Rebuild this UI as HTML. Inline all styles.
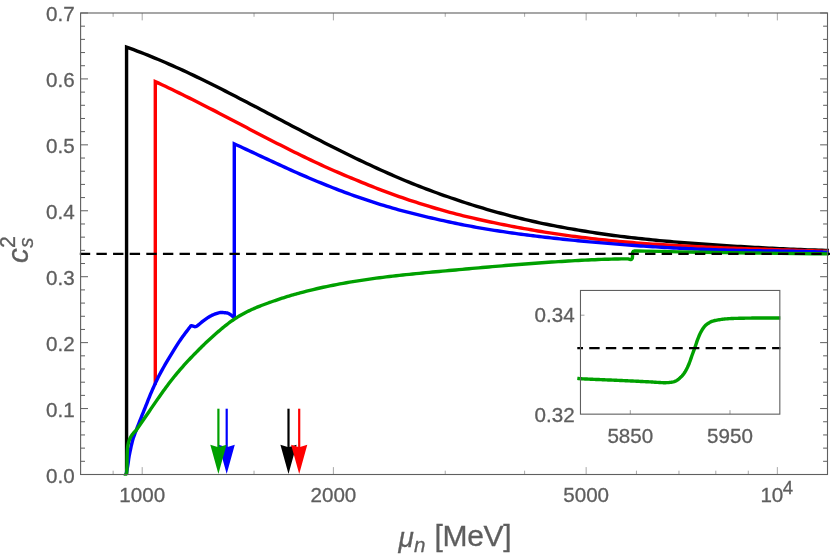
<!DOCTYPE html>
<html><head><meta charset="utf-8"><title>cs2</title>
<style>
html,body{margin:0;padding:0;background:#fff;}
body{width:830px;height:556px;overflow:hidden;}
svg{display:block;will-change:transform;}
text{font-family:"Liberation Sans",sans-serif;fill:#5e5e5e;stroke:#5e5e5e;stroke-width:0.3px;}
</style></head><body>
<svg width="830" height="556" viewBox="0 0 830 556">
<rect x="0" y="0" width="830" height="556" fill="#ffffff"/>
<defs><clipPath id="pc"><rect x="76.60" y="0" width="753.40" height="475.70"/></clipPath></defs>
<g clip-path="url(#pc)">
<polyline points="126.57,474.60 126.57,47.10 130.10,48.39 133.63,49.71 137.16,51.05 140.69,52.41 144.22,53.79 147.75,55.20 151.28,56.63 154.81,58.08 158.34,59.55 161.87,61.04 165.40,62.55 168.93,64.08 172.46,65.63 175.99,67.19 179.52,68.78 183.05,70.41 186.58,72.06 190.11,73.73 193.64,75.41 197.17,77.11 200.70,78.82 204.23,80.54 207.76,82.28 211.29,84.03 214.81,85.79 218.34,87.57 221.87,89.35 225.40,91.14 228.93,92.94 232.46,94.75 235.99,96.57 239.52,98.40 243.05,100.23 246.58,102.07 250.11,103.91 253.64,105.76 257.17,107.61 260.70,109.46 264.23,111.31 267.76,113.17 271.29,115.03 274.82,116.88 278.35,118.74 281.88,120.60 285.41,122.46 288.94,124.31 292.47,126.16 296.00,128.02 299.53,129.86 303.06,131.71 306.59,133.55 310.12,135.38 313.65,137.21 317.18,139.03 320.71,140.85 324.24,142.66 327.77,144.46 331.30,146.25 334.83,148.04 338.36,149.82 341.89,151.57 345.42,153.30 348.95,155.01 352.48,156.72 356.01,158.42 359.54,160.10 363.07,161.78 366.60,163.43 370.13,165.08 373.66,166.72 377.19,168.34 380.72,169.94 384.25,171.53 387.78,173.11 391.30,174.67 394.83,176.22 398.36,177.75 401.89,179.25 405.42,180.72 408.95,182.17 412.48,183.60 416.01,185.02 419.54,186.42 423.07,187.78 426.60,189.12 430.13,190.44 433.66,191.74 437.19,193.02 440.72,194.28 444.25,195.53 447.78,196.77 451.31,198.01 454.84,199.22 458.37,200.41 461.90,201.59 465.43,202.75 468.96,203.88 472.49,205.00 476.02,206.10 479.55,207.18 483.08,208.24 486.61,209.28 490.14,210.31 493.67,211.31 497.20,212.29 500.73,213.26 504.26,214.23 507.79,215.17 511.32,216.10 514.85,217.01 518.38,217.89 521.91,218.76 525.44,219.61 528.97,220.44 532.50,221.24 536.03,222.03 539.56,222.80 543.09,223.55 546.62,224.28 550.15,225.00 553.68,225.69 557.21,226.38 560.74,227.04 564.27,227.69 567.79,228.32 571.32,228.94 574.85,229.54 578.38,230.13 581.91,230.71 585.44,231.29 588.97,231.86 592.50,232.41 596.03,232.95 599.56,233.48 603.09,233.99 606.62,234.49 610.15,234.97 613.68,235.45 617.21,235.91 620.74,236.35 624.27,236.79 627.80,237.22 631.33,237.63 634.86,238.03 638.39,238.43 641.92,238.81 645.45,239.18 648.98,239.55 652.51,239.90 656.04,240.25 659.57,240.59 663.10,240.91 666.63,241.23 670.16,241.55 673.69,241.85 677.22,242.15 680.75,242.44 684.28,242.73 687.81,243.01 691.34,243.28 694.87,243.55 698.40,243.81 701.93,244.06 705.46,244.31 708.99,244.56 712.52,244.80 716.05,245.04 719.58,245.27 723.11,245.50 726.64,245.72 730.17,245.94 733.70,246.15 737.23,246.37 740.76,246.57 744.28,246.78 747.81,246.98 751.34,247.18 754.87,247.37 758.40,247.57 761.93,247.75 765.46,247.94 768.99,248.12 772.52,248.29 776.05,248.47 779.58,248.64 783.11,248.80 786.64,248.96 790.17,249.12 793.70,249.27 797.23,249.42 800.76,249.56 804.29,249.70 807.82,249.83 811.35,249.95 814.88,250.07 818.41,250.18 821.94,250.28 825.47,250.38 829.00,250.46" fill="none" stroke="#000000" stroke-width="3.4" stroke-linejoin="miter" stroke-miterlimit="10"/>
<polyline points="155.30,384.80 155.30,81.60 158.59,83.16 161.97,84.72 165.36,86.31 168.74,87.92 172.13,89.55 175.52,91.20 178.90,92.87 182.29,94.53 185.67,96.19 189.06,97.86 192.45,99.55 195.83,101.25 199.22,102.96 202.60,104.68 205.99,106.41 209.37,108.14 212.76,109.88 216.15,111.63 219.53,113.40 222.92,115.17 226.30,116.95 229.69,118.72 233.08,120.50 236.46,122.28 239.85,124.06 243.23,125.84 246.62,127.61 250.01,129.39 253.39,131.16 256.78,132.93 260.16,134.69 263.55,136.44 266.94,138.19 270.32,139.93 273.71,141.66 277.09,143.39 280.48,145.10 283.87,146.82 287.25,148.53 290.64,150.22 294.02,151.91 297.41,153.59 300.79,155.26 304.18,156.89 307.57,158.51 310.95,160.12 314.34,161.71 317.72,163.30 321.11,164.87 324.50,166.43 327.88,167.98 331.27,169.49 334.65,170.97 338.04,172.43 341.43,173.88 344.81,175.31 348.20,176.73 351.58,178.14 354.97,179.53 358.36,180.92 361.74,182.31 365.13,183.69 368.51,185.06 371.90,186.41 375.29,187.74 378.67,189.06 382.06,190.36 385.44,191.62 388.83,192.87 392.22,194.11 395.60,195.32 398.99,196.53 402.37,197.71 405.76,198.88 409.14,200.03 412.53,201.14 415.92,202.24 419.30,203.32 422.69,204.39 426.07,205.44 429.46,206.48 432.85,207.50 436.23,208.50 439.62,209.48 443.00,210.45 446.39,211.40 449.78,212.31 453.16,213.20 456.55,214.08 459.93,214.94 463.32,215.78 466.71,216.61 470.09,217.42 473.48,218.22 476.86,219.00 480.25,219.77 483.64,220.52 487.02,221.25 490.41,221.97 493.79,222.68 497.18,223.37 500.56,224.05 503.95,224.74 507.34,225.41 510.72,226.07 514.11,226.72 517.49,227.35 520.88,227.97 524.27,228.57 527.65,229.18 531.04,229.79 534.42,230.38 537.81,230.96 541.20,231.52 544.58,232.08 547.97,232.62 551.35,233.14 554.74,233.66 558.13,234.16 561.51,234.65 564.90,235.13 568.28,235.60 571.67,236.06 575.06,236.50 578.44,236.94 581.83,237.36 585.21,237.78 588.60,238.18 591.98,238.57 595.37,238.95 598.76,239.33 602.14,239.69 605.53,240.04 608.91,240.38 612.30,240.72 615.69,241.05 619.07,241.36 622.46,241.67 625.84,241.97 629.23,242.26 632.62,242.55 636.00,242.82 639.39,243.09 642.77,243.35 646.16,243.61 649.55,243.85 652.93,244.09 656.32,244.32 659.70,244.55 663.09,244.77 666.48,244.98 669.86,245.19 673.25,245.39 676.63,245.59 680.02,245.78 683.41,245.97 686.79,246.15 690.18,246.32 693.56,246.49 696.95,246.66 700.33,246.82 703.72,246.98 707.11,247.13 710.49,247.28 713.88,247.43 717.26,247.57 720.65,247.71 724.04,247.84 727.42,247.98 730.81,248.11 734.19,248.23 737.58,248.36 740.97,248.48 744.35,248.60 747.74,248.72 751.12,248.83 754.51,248.95 757.90,249.06 761.28,249.17 764.67,249.28 768.05,249.39 771.44,249.50 774.83,249.61 778.21,249.72 781.60,249.83 784.98,249.93 788.37,250.04 791.75,250.15 795.14,250.25 798.53,250.36 801.91,250.47 805.30,250.58 808.68,250.69 812.07,250.80 815.46,250.91 818.84,251.03 822.23,251.14 825.61,251.26 829.00,251.38" fill="none" stroke="#ff0000" stroke-width="3.4" stroke-linejoin="miter" stroke-miterlimit="10"/>
<polyline points="126.30,474.40 126.53,472.35 126.83,470.32 127.23,468.30 127.65,466.28 127.98,464.25 128.26,462.21 128.53,460.16 128.82,458.12 129.16,456.09 129.53,454.07 129.93,452.05 130.36,450.03 130.80,448.02 131.24,446.01 131.70,444.00 132.18,442.00 132.71,440.01 133.30,438.04 134.00,436.10 134.71,434.16 135.42,432.23 136.16,430.31 136.90,428.39 137.65,426.47 138.40,424.55 139.16,422.64 139.91,420.72 140.67,418.81 141.43,416.89 142.19,414.98 142.96,413.07 143.73,411.16 144.50,409.25 145.27,407.34 146.02,405.42 146.78,403.51 147.53,401.59 148.29,399.67 149.05,397.76 149.83,395.85 150.62,393.95 151.43,392.06 152.26,390.18 153.10,388.30 153.95,386.42 154.81,384.55 155.66,382.67 156.53,380.80 157.40,378.94 158.31,377.09 159.24,375.26 160.20,373.43 161.17,371.62 162.17,369.82 163.18,368.02 164.20,366.23 165.22,364.44 166.25,362.66 167.29,360.88 168.35,359.11 169.41,357.35 170.48,355.59 171.55,353.83 172.62,352.07 173.68,350.31 174.76,348.55 175.84,346.80 176.94,345.06 178.07,343.34 179.21,341.62 180.37,339.92 181.55,338.23 182.74,336.55 183.95,334.88 185.18,333.23 186.44,331.60 187.71,329.98 188.96,328.34 190.20,326.70 190.76,325.90 191.44,325.72 192.27,325.90 193.12,326.14 193.92,326.47 194.73,326.70 195.57,326.60 196.38,326.37 197.09,325.95 197.76,325.39 198.43,324.87 199.09,324.34 199.75,323.80 200.39,323.24 201.04,322.69 201.68,322.14 202.33,321.60 202.99,321.07 203.67,320.57 204.35,320.08 205.05,319.59 205.75,319.10 206.45,318.61 207.16,318.13 207.88,317.65 208.60,317.18 209.33,316.73 210.06,316.30 210.80,315.89 211.55,315.50 212.31,315.14 213.07,314.81 213.84,314.51 214.62,314.21 215.42,313.90 216.23,313.60 217.05,313.32 217.87,313.06 218.70,312.84 219.53,312.66 220.37,312.55 221.20,312.50 222.04,312.51 222.90,312.55 223.76,312.61 224.62,312.69 225.47,312.78 226.30,312.89 227.09,313.02 227.87,313.22 228.62,313.54 229.36,313.95 230.09,314.43 230.81,314.95 231.52,315.48 232.22,316.00 232.92,316.48 233.61,316.98 234.28,317.50 235.00,318.10" fill="none" stroke="#0000ff" stroke-width="3.4" stroke-linejoin="round" stroke-miterlimit="10"/>
<polyline points="234.28,318.90 234.28,143.80 237.23,145.18 240.22,146.56 243.21,147.96 246.19,149.36 249.18,150.77 252.17,152.16 255.16,153.56 258.15,154.95 261.14,156.34 264.13,157.74 267.12,159.13 270.10,160.52 273.09,161.91 276.08,163.29 279.07,164.66 282.06,166.03 285.05,167.39 288.04,168.75 291.03,170.09 294.01,171.43 297.00,172.75 299.99,174.07 302.98,175.37 305.97,176.67 308.96,177.95 311.95,179.22 314.94,180.47 317.92,181.71 320.91,182.94 323.90,184.16 326.89,185.36 329.88,186.54 332.87,187.72 335.86,188.89 338.85,190.05 341.83,191.18 344.82,192.30 347.81,193.41 350.80,194.50 353.79,195.58 356.78,196.63 359.77,197.68 362.76,198.70 365.74,199.71 368.73,200.71 371.72,201.68 374.71,202.64 377.70,203.59 380.69,204.52 383.68,205.43 386.67,206.33 389.65,207.21 392.64,208.08 395.63,208.93 398.62,209.77 401.61,210.59 404.60,211.39 407.59,212.18 410.58,212.96 413.56,213.70 416.55,214.44 419.54,215.16 422.53,215.87 425.52,216.57 428.51,217.29 431.50,218.00 434.49,218.69 437.47,219.37 440.46,220.04 443.45,220.70 446.44,221.35 449.43,222.00 452.42,222.63 455.41,223.25 458.40,223.86 461.38,224.46 464.37,225.05 467.36,225.63 470.35,226.20 473.34,226.75 476.33,227.30 479.32,227.84 482.31,228.37 485.29,228.89 488.28,229.37 491.27,229.85 494.26,230.32 497.25,230.79 500.24,231.24 503.23,231.69 506.22,232.13 509.20,232.56 512.19,232.99 515.18,233.40 518.17,233.82 521.16,234.22 524.15,234.62 527.14,235.00 530.13,235.38 533.11,235.76 536.10,236.12 539.09,236.49 542.08,236.84 545.07,237.19 548.06,237.54 551.05,237.88 554.04,238.21 557.02,238.54 560.01,238.87 563.00,239.19 565.99,239.51 568.98,239.82 571.97,240.12 574.96,240.43 577.95,240.73 580.93,241.02 583.92,241.30 586.91,241.58 589.90,241.86 592.89,242.13 595.88,242.40 598.87,242.66 601.86,242.92 604.84,243.17 607.83,243.43 610.82,243.67 613.81,243.92 616.80,244.16 619.79,244.39 622.78,244.62 625.77,244.85 628.75,245.08 631.74,245.30 634.73,245.51 637.72,245.72 640.71,245.93 643.70,246.14 646.69,246.34 649.68,246.53 652.66,246.72 655.65,246.91 658.64,247.09 661.63,247.27 664.62,247.45 667.61,247.62 670.60,247.78 673.59,247.94 676.57,248.10 679.56,248.25 682.55,248.40 685.54,248.55 688.53,248.68 691.52,248.82 694.51,248.95 697.50,249.08 700.48,249.20 703.47,249.32 706.46,249.43 709.45,249.54 712.44,249.64 715.43,249.74 718.42,249.84 721.41,249.93 724.39,250.02 727.38,250.10 730.37,250.18 733.36,250.26 736.35,250.33 739.34,250.40 742.33,250.46 745.32,250.53 748.30,250.59 751.29,250.64 754.28,250.70 757.27,250.75 760.26,250.80 763.25,250.85 766.24,250.89 769.23,250.94 772.21,250.98 775.20,251.02 778.19,251.07 781.18,251.11 784.17,251.16 787.16,251.20 790.15,251.25 793.14,251.30 796.12,251.35 799.11,251.40 802.10,251.46 805.09,251.52 808.08,251.59 811.07,251.67 814.06,251.75 817.05,251.83 820.03,251.93 823.02,252.03 826.01,252.15 829.00,252.27" fill="none" stroke="#0000ff" stroke-width="3.4" stroke-linejoin="miter" stroke-miterlimit="10"/>
<polyline points="123.70,475.70 124.55,475.44 125.24,475.05 125.79,474.49 126.26,473.74 126.51,472.95 126.62,472.18 126.71,471.38 126.78,470.56 126.85,469.73 126.90,468.89 126.94,468.04 126.97,467.19 126.99,466.35 127.01,465.53 127.02,464.70 127.03,463.88 127.04,463.05 127.05,462.22 127.05,461.40 127.06,460.57 127.07,459.74 127.07,458.92 127.08,458.09 127.10,457.26 127.11,456.44 127.13,455.61 127.16,454.79 127.19,453.96 127.23,453.13 127.27,452.31 127.31,451.48 127.36,450.66 127.41,449.83 127.47,449.01 127.54,448.18 127.63,447.36 127.73,446.54 127.84,445.73 127.98,444.91 128.14,444.10 128.33,443.29 128.54,442.49 128.76,441.69 128.99,440.90 129.27,440.12 129.57,439.35 129.91,438.60 130.27,437.86 130.66,437.13 131.09,436.42 131.53,435.71 131.98,435.03 132.46,434.35 132.97,433.70 133.48,433.05 134.01,432.42 134.56,431.80 135.12,431.19 135.70,431.04 137.08,429.06 138.46,427.08 139.84,425.08 141.22,423.07 142.60,421.06 143.98,419.03 145.36,417.01 146.75,414.98 148.13,412.95 149.51,410.93 150.89,408.90 152.27,406.88 153.65,404.87 155.03,402.87 156.41,400.88 157.79,398.90 159.17,396.94 160.55,394.98 161.93,393.02 163.31,391.09 164.69,389.17 166.07,387.28 167.46,385.42 168.84,383.58 170.22,381.77 171.60,380.00 172.98,378.25 174.36,376.53 175.74,374.84 177.12,373.18 178.50,371.54 179.88,369.93 181.26,368.34 182.64,366.78 184.02,365.23 185.40,363.71 186.78,362.20 188.17,360.71 189.55,359.24 190.93,357.78 192.31,356.34 193.69,354.92 195.07,353.50 196.45,352.10 197.83,350.70 199.21,349.32 200.59,347.94 201.97,346.57 203.35,345.21 204.73,343.86 206.11,342.56 207.49,341.27 208.88,339.99 210.26,338.73 211.64,337.48 213.02,336.25 214.40,335.03 215.78,333.81 217.16,332.58 218.54,331.37 219.92,330.19 221.30,329.02 222.68,327.87 224.06,326.75 225.44,325.64 226.82,324.56 228.21,323.51 229.59,322.48 230.97,321.48 232.35,320.50 233.73,319.55 235.11,318.63 236.49,317.74 237.87,316.88 239.25,316.04 240.63,315.23 242.01,314.45 243.39,313.69 244.77,312.95 246.15,312.23 247.53,311.54 248.92,310.86 250.30,310.20 251.68,309.57 253.06,308.95 254.44,308.34 255.82,307.76 257.20,307.18 258.58,306.62 259.96,306.08 261.34,305.54 262.72,305.02 264.10,304.50 265.48,303.99 266.86,303.48 268.24,302.97 269.63,302.47 271.01,301.98 272.39,301.49 273.77,301.00 275.15,300.52 276.53,300.05 277.91,299.58 279.29,299.12 280.67,298.66 282.05,298.21 283.43,297.76 284.81,297.32 286.19,296.88 287.57,296.45 288.95,296.02 290.34,295.60 291.72,295.20 293.10,294.81 294.48,294.42 295.86,294.03 297.24,293.65 298.62,293.27 300.00,292.90 303.31,292.02 306.63,291.17 309.94,290.34 313.25,289.54 316.57,288.76 319.88,288.01 323.19,287.28 326.51,286.57 329.82,285.88 333.13,285.21 336.44,284.57 339.76,283.94 343.07,283.33 346.38,282.75 349.70,282.17 353.01,281.62 356.32,281.09 359.64,280.57 362.95,280.06 366.26,279.57 369.58,279.10 372.89,278.64 376.20,278.19 379.52,277.75 382.83,277.33 386.14,276.92 389.45,276.52 392.77,276.13 396.08,275.75 399.39,275.38 402.71,275.02 406.02,274.67 409.33,274.32 412.65,273.98 415.96,273.65 419.27,273.32 422.59,273.00 425.90,272.68 429.21,272.37 432.53,272.06 435.84,271.75 439.15,271.45 442.46,271.14 445.78,270.84 449.09,270.54 452.40,270.24 455.72,269.94 459.03,269.63 462.34,269.33 465.66,269.03 468.97,268.73 472.28,268.43 475.60,268.13 478.91,267.84 482.22,267.54 485.54,267.25 488.85,266.96 492.16,266.67 495.47,266.38 498.79,266.10 502.10,265.82 505.41,265.54 508.73,265.26 512.04,264.99 515.35,264.72 518.67,264.46 521.98,264.20 525.29,263.94 528.61,263.69 531.92,263.44 535.23,263.20 538.55,262.97 541.86,262.73 545.17,262.51 548.48,262.29 551.80,262.07 555.11,261.87 558.42,261.67 561.74,261.46 565.05,261.25 568.36,261.04 571.68,260.84 574.99,260.65 578.30,260.47 581.62,260.30 584.93,260.13 588.24,259.97 591.56,259.82 594.87,259.68 598.18,259.55 601.49,259.42 604.81,259.31 608.12,259.21 611.43,259.11 614.75,259.03 618.06,258.95 621.37,258.90 624.69,258.87 628.00,258.85 630.60,259.55 631.70,259.30 632.30,258.20 632.50,256.50 632.55,254.00 632.70,252.40 633.30,251.40 634.40,251.00 637.00,250.95 645.00,251.10 660.00,251.35 680.00,251.85 699.50,252.30 725.00,252.65 749.50,252.95 780.00,253.40 814.50,253.80 829.00,253.90" fill="none" stroke="#00a000" stroke-width="3.4" stroke-linejoin="round" stroke-miterlimit="10"/>
<line x1="79.80" y1="253.95" x2="830" y2="253.95" stroke="#000" stroke-width="2.3" stroke-dasharray="10.4 6.225" stroke-dashoffset="0"/>
</g>
<g>
<line x1="226.70" y1="408.7" x2="226.70" y2="448" stroke="#0000ff" stroke-width="2.2"/><polygon points="226.70,473.9 218.60,444.7 226.70,447.3 234.80,444.7" fill="#0000ff"/>
<line x1="218.40" y1="408.7" x2="218.40" y2="448" stroke="#00a000" stroke-width="2.2"/><polygon points="218.40,473.9 210.30,444.7 218.40,447.3 226.50,444.7" fill="#00a000"/>
<line x1="288.50" y1="408.7" x2="288.50" y2="448" stroke="#000" stroke-width="2.2"/><polygon points="288.50,473.9 280.40,444.7 288.50,447.3 296.60,444.7" fill="#000"/>
<line x1="299.20" y1="408.7" x2="299.20" y2="448" stroke="#ff0000" stroke-width="2.2"/><polygon points="299.20,473.9 291.10,444.7 299.20,447.3 307.30,444.7" fill="#ff0000"/>
</g>
<g stroke="#5f5f5f" stroke-width="1" fill="none">
<line x1="142.20" y1="474.50" x2="142.20" y2="467.10" stroke-width="0.55"/>
<line x1="142.20" y1="13.00" x2="142.20" y2="20.40" stroke-width="0.55"/>
<line x1="333.40" y1="474.50" x2="333.40" y2="467.10" stroke-width="0.55"/>
<line x1="333.40" y1="13.00" x2="333.40" y2="20.40" stroke-width="0.55"/>
<line x1="586.15" y1="474.50" x2="586.15" y2="467.10" stroke-width="0.55"/>
<line x1="586.15" y1="13.00" x2="586.15" y2="20.40" stroke-width="0.55"/>
<line x1="777.35" y1="474.50" x2="777.35" y2="467.10" stroke-width="0.55"/>
<line x1="777.35" y1="13.00" x2="777.35" y2="20.40" stroke-width="0.55"/>
<line x1="113.14" y1="474.50" x2="113.14" y2="470.70" stroke-width="0.55"/>
<line x1="113.14" y1="13.00" x2="113.14" y2="16.80" stroke-width="0.55"/>
<line x1="254.04" y1="474.50" x2="254.04" y2="470.70" stroke-width="0.55"/>
<line x1="254.04" y1="13.00" x2="254.04" y2="16.80" stroke-width="0.55"/>
<line x1="445.24" y1="474.50" x2="445.24" y2="470.70" stroke-width="0.55"/>
<line x1="445.24" y1="13.00" x2="445.24" y2="16.80" stroke-width="0.55"/>
<line x1="524.60" y1="474.50" x2="524.60" y2="470.70" stroke-width="0.55"/>
<line x1="524.60" y1="13.00" x2="524.60" y2="16.80" stroke-width="0.55"/>
<line x1="636.44" y1="474.50" x2="636.44" y2="470.70" stroke-width="0.55"/>
<line x1="636.44" y1="13.00" x2="636.44" y2="16.80" stroke-width="0.55"/>
<line x1="678.96" y1="474.50" x2="678.96" y2="470.70" stroke-width="0.55"/>
<line x1="678.96" y1="13.00" x2="678.96" y2="16.80" stroke-width="0.55"/>
<line x1="715.80" y1="474.50" x2="715.80" y2="470.70" stroke-width="0.55"/>
<line x1="715.80" y1="13.00" x2="715.80" y2="16.80" stroke-width="0.55"/>
<line x1="748.29" y1="474.50" x2="748.29" y2="470.70" stroke-width="0.55"/>
<line x1="748.29" y1="13.00" x2="748.29" y2="16.80" stroke-width="0.55"/>
<line x1="80.60" y1="474.50" x2="88.00" y2="474.50"/>
<line x1="827.50" y1="474.50" x2="820.10" y2="474.50"/>
<line x1="80.60" y1="461.31" x2="85.00" y2="461.31"/>
<line x1="827.50" y1="461.31" x2="823.10" y2="461.31"/>
<line x1="80.60" y1="448.13" x2="85.00" y2="448.13"/>
<line x1="827.50" y1="448.13" x2="823.10" y2="448.13"/>
<line x1="80.60" y1="434.94" x2="85.00" y2="434.94"/>
<line x1="827.50" y1="434.94" x2="823.10" y2="434.94"/>
<line x1="80.60" y1="421.76" x2="85.00" y2="421.76"/>
<line x1="827.50" y1="421.76" x2="823.10" y2="421.76"/>
<line x1="80.60" y1="408.57" x2="88.00" y2="408.57"/>
<line x1="827.50" y1="408.57" x2="820.10" y2="408.57"/>
<line x1="80.60" y1="395.38" x2="85.00" y2="395.38"/>
<line x1="827.50" y1="395.38" x2="823.10" y2="395.38"/>
<line x1="80.60" y1="382.20" x2="85.00" y2="382.20"/>
<line x1="827.50" y1="382.20" x2="823.10" y2="382.20"/>
<line x1="80.60" y1="369.01" x2="85.00" y2="369.01"/>
<line x1="827.50" y1="369.01" x2="823.10" y2="369.01"/>
<line x1="80.60" y1="355.83" x2="85.00" y2="355.83"/>
<line x1="827.50" y1="355.83" x2="823.10" y2="355.83"/>
<line x1="80.60" y1="342.64" x2="88.00" y2="342.64"/>
<line x1="827.50" y1="342.64" x2="820.10" y2="342.64"/>
<line x1="80.60" y1="329.45" x2="85.00" y2="329.45"/>
<line x1="827.50" y1="329.45" x2="823.10" y2="329.45"/>
<line x1="80.60" y1="316.27" x2="85.00" y2="316.27"/>
<line x1="827.50" y1="316.27" x2="823.10" y2="316.27"/>
<line x1="80.60" y1="303.08" x2="85.00" y2="303.08"/>
<line x1="827.50" y1="303.08" x2="823.10" y2="303.08"/>
<line x1="80.60" y1="289.90" x2="85.00" y2="289.90"/>
<line x1="827.50" y1="289.90" x2="823.10" y2="289.90"/>
<line x1="80.60" y1="276.71" x2="88.00" y2="276.71"/>
<line x1="827.50" y1="276.71" x2="820.10" y2="276.71"/>
<line x1="80.60" y1="263.52" x2="85.00" y2="263.52"/>
<line x1="827.50" y1="263.52" x2="823.10" y2="263.52"/>
<line x1="80.60" y1="250.34" x2="85.00" y2="250.34"/>
<line x1="827.50" y1="250.34" x2="823.10" y2="250.34"/>
<line x1="80.60" y1="237.15" x2="85.00" y2="237.15"/>
<line x1="827.50" y1="237.15" x2="823.10" y2="237.15"/>
<line x1="80.60" y1="223.97" x2="85.00" y2="223.97"/>
<line x1="827.50" y1="223.97" x2="823.10" y2="223.97"/>
<line x1="80.60" y1="210.78" x2="88.00" y2="210.78"/>
<line x1="827.50" y1="210.78" x2="820.10" y2="210.78"/>
<line x1="80.60" y1="197.59" x2="85.00" y2="197.59"/>
<line x1="827.50" y1="197.59" x2="823.10" y2="197.59"/>
<line x1="80.60" y1="184.41" x2="85.00" y2="184.41"/>
<line x1="827.50" y1="184.41" x2="823.10" y2="184.41"/>
<line x1="80.60" y1="171.22" x2="85.00" y2="171.22"/>
<line x1="827.50" y1="171.22" x2="823.10" y2="171.22"/>
<line x1="80.60" y1="158.04" x2="85.00" y2="158.04"/>
<line x1="827.50" y1="158.04" x2="823.10" y2="158.04"/>
<line x1="80.60" y1="144.85" x2="88.00" y2="144.85"/>
<line x1="827.50" y1="144.85" x2="820.10" y2="144.85"/>
<line x1="80.60" y1="131.66" x2="85.00" y2="131.66"/>
<line x1="827.50" y1="131.66" x2="823.10" y2="131.66"/>
<line x1="80.60" y1="118.48" x2="85.00" y2="118.48"/>
<line x1="827.50" y1="118.48" x2="823.10" y2="118.48"/>
<line x1="80.60" y1="105.29" x2="85.00" y2="105.29"/>
<line x1="827.50" y1="105.29" x2="823.10" y2="105.29"/>
<line x1="80.60" y1="92.11" x2="85.00" y2="92.11"/>
<line x1="827.50" y1="92.11" x2="823.10" y2="92.11"/>
<line x1="80.60" y1="78.92" x2="88.00" y2="78.92"/>
<line x1="827.50" y1="78.92" x2="820.10" y2="78.92"/>
<line x1="80.60" y1="65.73" x2="85.00" y2="65.73"/>
<line x1="827.50" y1="65.73" x2="823.10" y2="65.73"/>
<line x1="80.60" y1="52.55" x2="85.00" y2="52.55"/>
<line x1="827.50" y1="52.55" x2="823.10" y2="52.55"/>
<line x1="80.60" y1="39.36" x2="85.00" y2="39.36"/>
<line x1="827.50" y1="39.36" x2="823.10" y2="39.36"/>
<line x1="80.60" y1="26.18" x2="85.00" y2="26.18"/>
<line x1="827.50" y1="26.18" x2="823.10" y2="26.18"/>
<line x1="80.60" y1="12.99" x2="88.00" y2="12.99"/>
<line x1="827.50" y1="12.99" x2="820.10" y2="12.99"/>
</g>
<rect x="80.60" y="13.00" width="746.90" height="461.50" fill="none" stroke="#5f5f5f" stroke-width="1.1"/>
<g>
<rect x="580.47" y="290.45" width="199.36" height="123.70" fill="#fff" stroke="none"/>
<polyline points="577.30,378.40 578.39,378.51 579.47,378.62 580.56,378.70 581.65,378.77 582.74,378.84 583.83,378.90 584.92,378.96 586.01,379.02 587.10,379.07 588.19,379.12 589.28,379.17 590.37,379.21 591.47,379.26 592.56,379.30 593.65,379.34 594.74,379.38 595.83,379.43 596.92,379.47 598.02,379.52 599.11,379.56 600.20,379.61 601.29,379.66 602.38,379.70 603.47,379.75 604.56,379.80 605.65,379.84 606.74,379.89 607.83,379.93 608.93,379.98 610.02,380.02 611.11,380.07 612.20,380.11 613.29,380.16 614.38,380.21 615.47,380.25 616.56,380.30 617.65,380.34 618.75,380.39 619.84,380.44 620.93,380.49 622.02,380.54 623.11,380.59 624.20,380.64 625.29,380.69 626.38,380.74 627.47,380.79 628.56,380.84 629.65,380.90 630.74,380.95 631.84,381.00 632.93,381.05 634.02,381.11 635.11,381.16 636.20,381.21 637.29,381.27 638.38,381.32 639.47,381.37 640.56,381.43 641.65,381.48 642.74,381.53 643.83,381.59 644.92,381.64 646.02,381.69 647.11,381.75 648.20,381.80 649.29,381.86 650.38,381.92 651.47,381.99 652.56,382.06 653.65,382.13 654.74,382.20 655.83,382.27 656.92,382.34 658.01,382.40 659.10,382.46 660.19,382.53 661.28,382.60 662.37,382.65 663.46,382.69 664.55,382.70 665.64,382.68 666.74,382.64 667.83,382.58 668.92,382.51 670.00,382.41 671.09,382.26 672.17,382.07 673.24,381.84 674.28,381.55 675.31,381.14 676.30,380.67 677.24,380.14 678.13,379.51 678.99,378.82 679.82,378.10 680.62,377.36 681.41,376.59 682.15,375.80 682.86,374.97 683.54,374.11 684.18,373.22 684.79,372.31 685.36,371.39 685.90,370.44 686.41,369.48 686.91,368.50 687.39,367.52 687.85,366.52 688.30,365.52 688.73,364.52 689.14,363.51 689.53,362.50 689.91,361.48 690.28,360.45 690.64,359.41 690.99,358.38 691.35,357.34 691.71,356.31 692.08,355.28 692.45,354.25 692.83,353.23 693.21,352.21 693.59,351.18 693.97,350.16 694.35,349.14 694.72,348.11 695.08,347.08 695.43,346.04 695.76,345.00 696.10,343.96 696.43,342.92 696.77,341.88 697.12,340.85 697.50,339.82 697.89,338.81 698.29,337.79 698.70,336.77 699.13,335.76 699.57,334.75 700.03,333.76 700.52,332.78 701.02,331.82 701.55,330.88 702.11,329.93 702.70,328.99 703.32,328.06 703.97,327.16 704.65,326.31 705.38,325.52 706.15,324.80 707.02,324.14 707.94,323.53 708.88,322.95 709.82,322.38 710.78,321.84 711.77,321.39 712.79,321.05 713.84,320.77 714.92,320.53 715.99,320.30 717.06,320.09 718.14,319.89 719.21,319.72 720.29,319.56 721.38,319.41 722.46,319.28 723.55,319.15 724.63,319.04 725.72,318.93 726.81,318.83 727.90,318.74 728.98,318.66 730.07,318.60 731.16,318.55 732.26,318.50 733.35,318.46 734.44,318.42 735.53,318.39 736.62,318.36 737.71,318.33 738.81,318.30 739.90,318.28 740.99,318.25 742.08,318.23 743.17,318.21 744.26,318.19 745.36,318.17 746.45,318.15 747.54,318.13 748.63,318.12 749.72,318.10 750.82,318.09 751.91,318.07 753.00,318.06 754.09,318.05 755.18,318.03 756.28,318.02 757.37,318.01 758.46,318.00 759.55,318.00 760.64,318.00 761.74,318.00 762.83,318.00 763.92,318.00 765.01,318.00 766.10,318.00 767.20,318.00 768.29,318.00 769.38,318.00 770.47,318.00 771.56,318.00 772.66,318.00 773.75,318.00 774.84,318.00 775.93,318.00 777.02,318.00 778.12,318.00 779.21,318.00 780.30,318.00" fill="none" stroke="#00a000" stroke-width="3.4" stroke-linejoin="round" stroke-miterlimit="10"/>
<line x1="577.30" y1="348.20" x2="780.43" y2="348.20" stroke="#000" stroke-width="2.3" stroke-dasharray="10.4 6.225" stroke-dashoffset="4.7"/>
<rect x="580.47" y="290.45" width="199.36" height="123.70" fill="none" stroke="#5f5f5f" stroke-width="1.1"/>
</g>
<g stroke="#5f5f5f" stroke-width="0.6" fill="none">
<line x1="630.31" y1="414.15" x2="630.31" y2="410.15"/>
<line x1="729.99" y1="414.15" x2="729.99" y2="410.15"/>
<line x1="580.47" y1="315.19" x2="584.47" y2="315.19"/>
</g>
<g>
<text x="74.60" y="483.00" text-anchor="end" font-size="20.6">0.0</text>
<text x="74.60" y="417.07" text-anchor="end" font-size="20.6">0.1</text>
<text x="74.60" y="351.14" text-anchor="end" font-size="20.6">0.2</text>
<text x="74.60" y="285.21" text-anchor="end" font-size="20.6">0.3</text>
<text x="74.60" y="219.28" text-anchor="end" font-size="20.6">0.4</text>
<text x="74.60" y="153.35" text-anchor="end" font-size="20.6">0.5</text>
<text x="74.60" y="87.42" text-anchor="end" font-size="20.6">0.6</text>
<text x="74.60" y="21.49" text-anchor="end" font-size="20.6">0.7</text>
<text x="142.20" y="502.3" text-anchor="middle" font-size="20.6">1000</text>
<text x="333.40" y="502.3" text-anchor="middle" font-size="20.6">2000</text>
<text x="586.15" y="502.3" text-anchor="middle" font-size="20.6">5000</text>
<text x="760.4" y="502.3" font-size="20.6">10<tspan dy="-8.5" dx="-0.5" font-size="18.6">4</tspan></text>
<text x="574.6" y="322.49" text-anchor="end" font-size="20.6">0.34</text>
<text x="574.6" y="422.45" text-anchor="end" font-size="20.6">0.32</text>
<text x="630.31" y="443.2" text-anchor="middle" font-size="20.6">5850</text>
<text x="729.99" y="443.2" text-anchor="middle" font-size="20.6">5950</text>
<text x="398.4" y="546.6" font-size="28" font-style="italic">μ<tspan font-size="20.6" dy="5.6" dx="0.2">n</tspan></text>
<text x="434.5" y="546.4" font-size="30" letter-spacing="-0.3">[MeV]</text>
<g transform="translate(28.4,263) rotate(-90)"><text x="0" y="0" font-size="29.5" font-style="italic">c<tspan font-size="20.6" dy="5" dx="0.5">s</tspan></text><text x="14.9" y="-13.6" font-size="21.3">2</text></g>
</g>
</svg>
</body></html>
